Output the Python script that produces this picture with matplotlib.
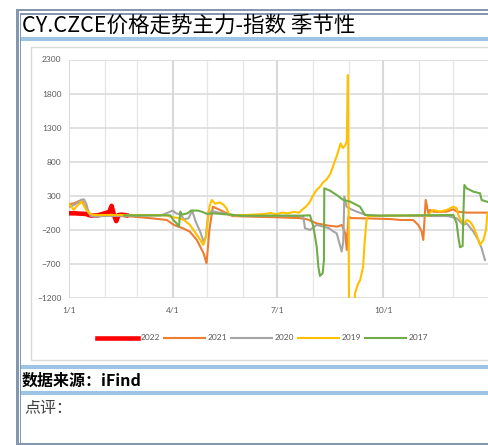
import matplotlib
matplotlib.use("Agg")
import matplotlib.pyplot as plt
from matplotlib.patches import Rectangle
from matplotlib.lines import Line2D

W, H = 489, 445

title = "CY.CZCE价格走势主力-指数 季节性"
source_text = "数据来源：iFind"
comment_text = "点评："

x_ticks = [0, 90, 181, 273]
x_ticklabels = ["1/1", "4/1", "7/1", "10/1"]
month_starts = [31, 59, 120, 151, 212, 243, 304, 334, 365]
y_ticks = [-1200, -700, -200, 300, 800, 1300, 1800, 2300]

series_names = ["2022", "2021", "2020", "2019", "2017"]
series_colors = ["#FF0000", "#ED7D31", "#A5A5A5", "#FFC000", "#70AD47"]

days_2022 = [0, 5, 10, 15, 17, 20, 25, 29, 32, 35, 37, 39, 41, 43, 46, 50]
vals_2022 = [40, 40, 35, 30, 15, 5, 10, 30, 45, 60, 150, 20, -75, 15, 20, 10]

days_2021 = [0, 2, 5, 8, 11, 14, 17, 21, 30, 50, 70, 85, 91, 99, 105, 111, 117, 119.5, 122, 125,
             131, 137, 142, 160, 180, 200, 207, 215, 225, 233, 237, 240, 241.3, 242.7, 245, 260,
             280, 288, 299, 303.5, 306.4, 307.8, 309.9, 312.2, 313.6, 316.5, 320, 328, 334, 337,
             345.5, 370]
vals_2021 = [165, 180, 190, 215, 236, 140, 40, 15, 10, 0, -30, -58, -130, -180, -230, -350, -550, -694, -200, 138,
             90, 40, 0, -10, -18, -30, -48, -107, -140, -156, -131, -254, -498, -9, -30, -35,
             -45, -58, -58, -131, -229, -352, 236, 40, 89, 65, 60, 65, 99, 65,
             50, 50]

days_2020 = [0, 4, 8, 11, 13, 15, 17, 19, 22, 30, 50, 80, 86, 90, 93, 97, 100, 104, 107, 110,
             114, 117, 119, 121, 125, 130, 137, 145, 160, 180, 200, 203.6, 205, 209.4, 215.2,
             220.9, 226, 230, 232.6, 236.9, 238.3, 239.2, 241.2, 245, 249.9, 255.7, 260, 280, 300,
             328, 331, 336.8, 342.6, 345.5, 351.3, 355.6, 358.5, 361.4]
vals_2020 = [130, 160, 200, 240, 245, 180, 60, 0, -10, 0, 5, 10, 50, 80, 40, 20, -50, -30, 80, -80,
             -230, -380, -300, 60, 70, 50, 30, 10, 5, 5, 0, -10, -180, -205, -131,
             -156, -180, -230, -254, -523, -376, 285, 138, 100, 65, 30, 5, 5, 0,
             0, -8, -33, -131, -107, -229, -352, -474, -645]

days_2019 = [0, 2, 4, 7, 11, 13, 15, 18, 21, 50, 70, 85, 88, 95, 100, 105, 110, 114, 116.7, 119,
             122, 124, 127, 131, 134, 137, 139, 145, 160, 170, 175, 180, 185, 190, 195, 200, 203,
             206, 209, 212, 215, 218, 221, 224, 227, 230, 233, 236, 238, 240, 241.3, 242.3, 243.3,
             247.5, 248.5, 251, 253, 255.5, 257, 258.5, 260, 280, 300, 309, 312.2, 313.6, 316.5,
             322.3, 328.1, 333.9, 336.8, 338.2, 342.6, 345.5, 348.4, 351.3, 354.2, 357.1, 360,
             362.3, 363.5, 370]
vals_2019 = [177, 138, 90, 150, 212, 150, 90, 40, 15, 15, 15, 10, -10, -30, -60, -130, -250, -350, -425, -300,
             140, 236, 180, 200, 170, 110, 20, 10, 20, 30, 45, 25, 50, 40, 60, 50, 100,
             140, 200, 300, 380, 430, 500, 540, 620, 760, 900, 1068, 1000, 1040, 1100, 2072, -1500,
             -1500, -1135, -1000, -940, -745, -350, -60, 0, 5, 10, 10, 0, 50, 89,
             65, 89, 138, 114, 16, -131, -58, -82, -156, -278, -425, -352,
             -205, 40, 60]

days_2017 = [48, 60, 80, 88, 90.6, 93.5, 95.5, 96.7, 98, 103, 106, 112, 116, 120, 125, 140, 150, 180,
             200, 209.4, 212.3, 215.2, 216.6, 218, 220.4, 221.5, 221.8, 226.7, 232.6, 238.3, 244.1,
             252.8, 257.1, 270, 300, 333.9, 336.8, 338.2, 339.7, 342, 342.6, 343.5, 345.5, 348.4,
             351.3, 357.1, 358.5, 362.9, 367]
vals_2017 = [10, 10, 10, 10, -58, -107, -156, 65, 20, 40, 80, 80, 60, 30, 40, 20, 5, 5,
             5, 10, -156, -449, -743, -880, -841, -645, 407, 373, 309, 236, 212,
             138, 16, 5, 10, 16, -107, -302, -459, -440, 20, 456, 407, 383,
             358, 334, 236, 212, 187]

series_days = [days_2022, days_2021, days_2020, days_2019, days_2017]
series_vals = [vals_2022, vals_2021, vals_2020, vals_2019, vals_2017]
series_widths = [3.3, 1.5, 1.5, 1.5, 1.5]

CJK = ["Noto Sans CJK SC", "DejaVu Sans"]
TICKFONT = ["Lato", "DejaVu Sans"]

fig = plt.figure(figsize=(W / 100, H / 100), dpi=100)

# background / frame in pixel coordinates
bg = fig.add_axes([0, 0, 1, 1])
bg.set_xlim(0, W)
bg.set_ylim(H, 0)
bg.axis("off")
frame_c = "#8497B0"
band_c = "#9DC3E6"
bg.add_patch(Rectangle((16, 9), 2.5, H - 9, color=frame_c, lw=0))
bg.add_patch(Rectangle((20, 13), 1.3, H - 13, color=frame_c, lw=0))
bg.add_patch(Rectangle((16, 9), W - 16, 2, color=frame_c, lw=0))
bg.add_patch(Rectangle((20, 13), W - 20, 1.5, color=frame_c, lw=0))
bg.add_patch(Rectangle((16, 443), W - 16, 2, color=frame_c, lw=0))
bg.add_patch(Rectangle((21.3, 36.5), W - 21.3, 4.5, color=band_c, lw=0))
bg.add_patch(Rectangle((21.3, 365), W - 21.3, 4, color=band_c, lw=0))
bg.add_patch(Rectangle((21.3, 390.5), W - 21.3, 4.5, color=band_c, lw=0))
bg.add_patch(Rectangle((30.5, 46.5), 470, 313, fill=False, ec="#D9D9D9", lw=1))

bg.text(22, 25.5, title, fontsize=15.5, family=CJK, va="center", ha="left", color="#000000")
bg.text(22, 381, source_text, fontsize=11.5, family=CJK, weight="bold", va="center", ha="left", color="#000000")
bg.text(24, 409, comment_text, fontsize=11.5, family=CJK, va="center", ha="left", color="#404040")

# main chart
px_per_day = 1.151
ax_left, ax_top, ax_bottom = 69, 59.5, 297.7
xmax = 370
ax = fig.add_axes([ax_left / W, 1 - ax_bottom / H, xmax * px_per_day / W, (ax_bottom - ax_top) / H])
ax.set_xlim(0, xmax)
ax.set_ylim(-1200, 2300)
for s in ax.spines.values():
    s.set_visible(False)
ax.set_facecolor("none")

ax.set_yticks(y_ticks)
ax.set_xticks(x_ticks)
ax.set_xticklabels(x_ticklabels)
ax.set_xticks(month_starts, minor=True)
ax.grid(True, axis="y", color="#D9D9D9", lw=1.1)
ax.grid(True, axis="x", which="major", color="#D9D9D9", lw=1.5)
ax.grid(True, axis="x", which="minor", color="#E6E6E6", lw=0.9)
ax.set_axisbelow(True)
ax.tick_params(axis="both", which="both", length=0, labelsize=6, labelcolor="#595959")
ax.tick_params(axis="y", pad=5.5)
ax.tick_params(axis="x", pad=6.5)
for lab in ax.get_xticklabels() + ax.get_yticklabels():
    lab.set_family(TICKFONT)

for d, v, c, w, z in zip(series_days, series_vals, series_colors, series_widths, range(5)):
    ax.plot(d, v, color=c, lw=w, zorder=3 + z, solid_joinstyle="round")

handles = [Line2D([], [], color=c, lw=w) for c, w in zip(series_colors, series_widths)]
leg = fig.legend(handles, series_names, loc="center", bbox_to_anchor=(262.5 / W, 1 - 338 / H),
                 ncol=5, frameon=False, fontsize=6, handlelength=4.9, handletextpad=0.35,
                 columnspacing=0.45, borderaxespad=0, borderpad=0,
                 prop={"family": TICKFONT, "size": 6})
for t in leg.get_texts():
    t.set_color("#595959")

fig.savefig("out.png", dpi=100)
